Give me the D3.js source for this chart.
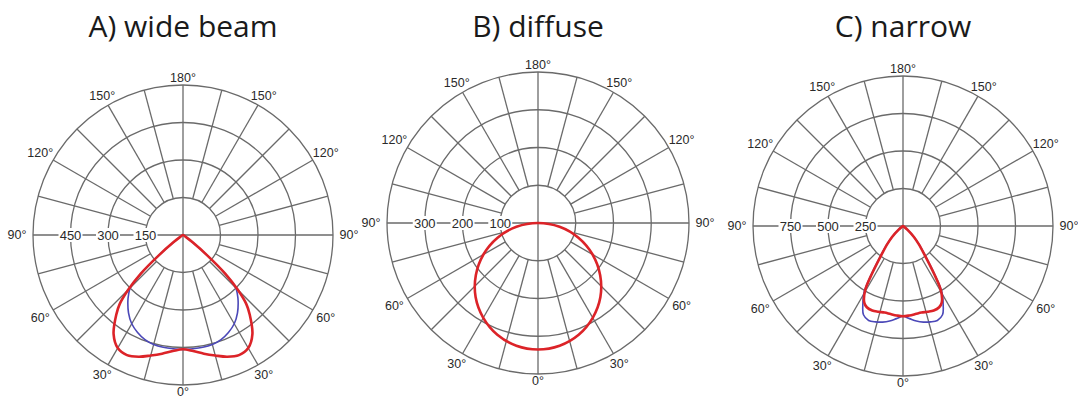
<!DOCTYPE html>
<meta charset="utf-8">
<script src="https://cdn.jsdelivr.net/npm/d3@7"></script>
<style>
    body {
        padding: 0;
        margin: 0;
        background: #fff;
    }
</style>
<body>
<script>
// titles and ring ticks per panel
const titles = ['A) wide beam', 'B) diffuse', 'C) narrow'];
const wideRings = [150, 300, 450, 600];
const diffuseRings = [100, 200, 300, 400];
const narrowRings = [250, 500, 750, 1000];
const angleTicks = [0, 30, 60, 90, 120, 150, 180];

// half curves (0deg = down), mirrored for the other side
const wideAngles = [0, 5, 10, 15, 20, 25, 30, 35, 40, 42.5, 45, 47.5, 50, 52.5, 55, 60];
const wideRed    = [457, 466, 482, 499, 518, 530, 522, 484, 415, 375, 310, 230, 125, 50, 15, 0];
const wideBlue   = [458, 457, 456, 453, 445, 430, 410, 380, 343, 322, 298, 225, 123, 50, 15, 0];

const diffuseAngles = [0, 10, 20, 30, 40, 50, 60, 70, 80, 90];
const diffuseRed    = [335, 330, 315, 290, 257, 215, 167, 114, 58, 0];

const narrowAngles = [0, 4, 8, 12, 16, 20, 24, 27, 30.5, 33, 37, 41, 45, 50, 55, 60];
const narrowRed    = [602, 598, 593, 590, 595, 600, 593, 570, 497, 380, 235, 160, 103, 40, 10, 0];
const narrowBlue   = [602, 619, 640, 655, 665, 670, 648, 590, 510, 395, 245, 165, 105, 40, 10, 0];

const width = 1078;
const height = 399;
const rad = Math.PI / 180;
const gridColor = '#6a6a6a';
const red = '#dc2328';
const blue = '#4b48b8';

const panels = [
    { title: titles[0], cx: 183, cy: 235, R: 150, rings: wideRings, angles: wideAngles,
      series: [{ values: wideBlue, color: blue, w: 1.6 }, { values: wideRed, color: red, w: 2.6 }] },
    { title: titles[1], cx: 538, cy: 223, R: 151, rings: diffuseRings, angles: diffuseAngles,
      series: [{ values: diffuseRed, color: red, w: 2.6 }] },
    { title: titles[2], cx: 903, cy: 226, R: 150, rings: narrowRings, angles: narrowAngles,
      series: [{ values: narrowBlue, color: blue, w: 1.6 }, { values: narrowRed, color: red, w: 2.6 }] },
];

const svg = d3.select('body').append('svg')
    .attr('width', width)
    .attr('height', height)
    .attr('viewBox', [0, 0, width, height]);

// mirror half curve into a closed loop, keeping the centre point once
function loop(angles, values) {
    const pts = angles.map((a, i) => ({ a, v: values[i] }));
    const left = pts.slice(1).reverse().map(d => ({ a: -d.a, v: d.v }));
    return left.concat(pts.slice(0, -1));
}

panels.forEach(p => {
    svg.append('text')
        .attr('x', p.cx)
        .attr('y', 37)
        .attr('text-anchor', 'middle')
        .attr('font-family', '"Open Sans", sans-serif')
        .attr('font-size', 30)
        .attr('fill', '#1a1a1a')
        .text(p.title);

    const g = svg.append('g').attr('transform', `translate(${p.cx},${p.cy})`);
    const r = d3.scaleLinear().domain([0, d3.max(p.rings)]).range([0, p.R]);
    const inner = r(p.rings[0]);

    g.selectAll('circle.ring')
        .data(p.rings)
        .join('circle')
            .classed('ring', true)
            .attr('r', d => r(d))
            .attr('fill', 'none')
            .attr('stroke', gridColor)
            .attr('stroke-width', 1.3);

    // spokes every 15deg, the axes go through the centre
    g.selectAll('line.spoke')
        .data(d3.range(0, 360, 15))
        .join('line')
            .classed('spoke', true)
            .attr('x1', d => (d % 90 === 0 ? 0 : inner) * Math.sin(d * rad))
            .attr('y1', d => (d % 90 === 0 ? 0 : inner) * Math.cos(d * rad))
            .attr('x2', d => p.R * Math.sin(d * rad))
            .attr('y2', d => p.R * Math.cos(d * rad))
            .attr('stroke', gridColor)
            .attr('stroke-width', 1.3);

    // ring values along the left axis
    const rl = g.selectAll('g.rlabel')
        .data(p.rings.slice(0, -1))
        .join('g')
            .classed('rlabel', true)
            .attr('transform', d => `translate(${-r(d)},0)`);
    rl.append('rect')
        .attr('x', -12).attr('y', -7)
        .attr('width', 24).attr('height', 14)
        .attr('fill', '#fff');
    rl.append('text')
        .attr('text-anchor', 'middle')
        .attr('dy', '0.35em')
        .attr('font-family', '"Liberation Sans", Arial, sans-serif')
        .attr('font-size', 13)
        .attr('fill', '#2a2a2a')
        .text(d => d);

    // angle labels on both sides
    const labels = [];
    angleTicks.forEach(a => {
        labels.push(a);
        if (a !== 0 && a !== 180) labels.push(-a);
    });
    g.selectAll('text.alabel')
        .data(labels)
        .join('text')
            .classed('alabel', true)
            .attr('x', d => (p.R + 7 + 9 * Math.abs(Math.sin(d * rad))) * Math.sin(d * rad))
            .attr('y', d => (p.R + 7 + 9 * Math.abs(Math.sin(d * rad))) * Math.cos(d * rad))
            .attr('text-anchor', 'middle')
            .attr('dy', '0.35em')
            .attr('font-family', '"Liberation Sans", Arial, sans-serif')
            .attr('font-size', 12.5)
            .attr('fill', '#2a2a2a')
            .text(d => Math.abs(d) + '°');

    const line = d3.lineRadial()
        .angle(d => Math.PI - d.a * rad)
        .radius(d => r(d.v))
        .curve(d3.curveCatmullRomClosed.alpha(0.5));

    g.selectAll('path.curve')
        .data(p.series)
        .join('path')
            .classed('curve', true)
            .attr('d', s => line(loop(p.angles, s.values)))
            .attr('fill', 'none')
            .attr('stroke', s => s.color)
            .attr('stroke-width', s => s.w)
            .attr('stroke-linejoin', 'round');
});
</script>
</body>
